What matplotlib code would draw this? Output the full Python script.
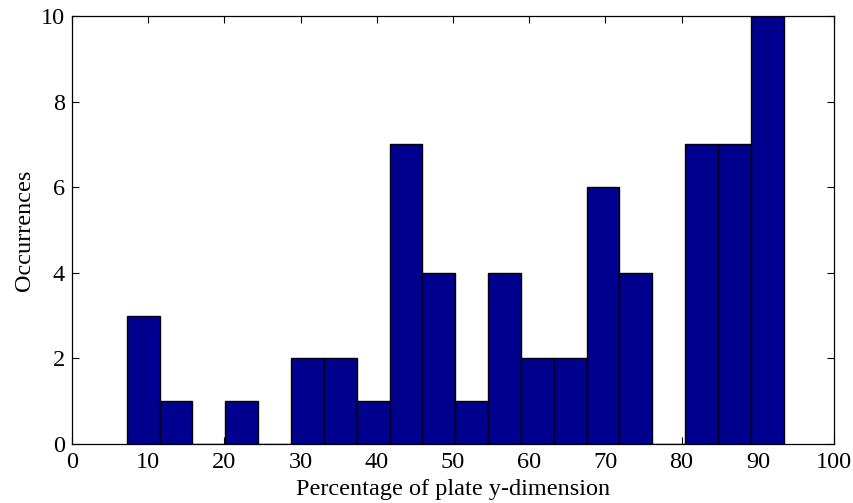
import numpy as np
import matplotlib
matplotlib.use("Agg")
import matplotlib.pyplot as plt

# histogram counts, 20 bins
counts = [3, 1, 0, 1, 0, 2, 2, 1, 7, 4, 1, 4, 2, 2, 6, 4, 0, 7, 7, 10]
bin_start = 7.18
bin_width = 4.311
xticks = [0, 10, 20, 30, 40, 50, 60, 70, 80, 90, 100]
yticks = [0, 2, 4, 6, 8, 10]

plt.rcParams['font.family'] = ['Liberation Serif', 'DejaVu Serif']
fs = 17.5

fig = plt.figure(figsize=(8.54, 5.03), dpi=100)
ax = fig.add_axes([0.0843, 0.1173, 0.8923, 0.8507])

lefts = bin_start + bin_width * np.arange(len(counts))
ax.bar(lefts, counts, width=bin_width, align='edge', color='#00008F',
       edgecolor='black', linewidth=1.0, zorder=3)

ax.set_xlim(0, 100)
ax.set_ylim(0, 10)
ax.set_xticks(xticks)
ax.set_yticks(yticks)
ax.tick_params(direction='in', top=True, right=True, length=5, width=0.8,
               labelsize=fs)
ax.tick_params(axis='x', pad=6)
ax.tick_params(axis='y', pad=5)
for s in ax.spines.values():
    s.set_linewidth(0.9)
    s.set_zorder(2)

ax.set_xlabel('Percentage of plate y-dimension', fontsize=fs, labelpad=4)
ax.set_ylabel('Occurrences', fontsize=fs, labelpad=4)

fig.savefig('out.png', dpi=100)
